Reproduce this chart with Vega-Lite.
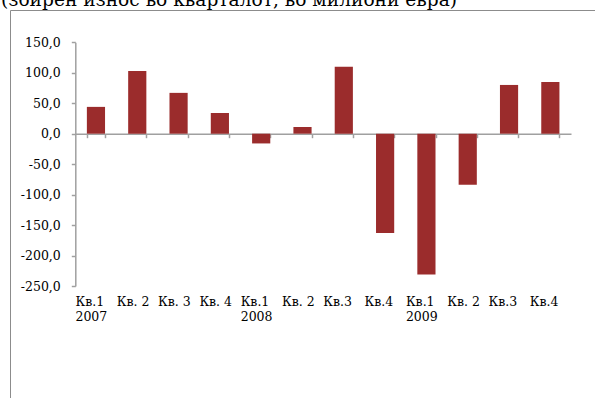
{
  "$schema": "https://vega.github.io/schema/vega-lite/v6.json",
  "autosize": {"type": "none"},
  "padding": {"left": 10, "top": 10, "right": -2, "bottom": -2},
  "width": 587,
  "height": 390,
  "background": "white",
  "title": {
    "text": "(збирен износ во кварталот, во милиони евра)",
    "anchor": "start",
    "frame": "group",
    "orient": "top",
    "baseline": "alphabetic",
    "offset": 4,
    "dx": -9,
    "dy": 19,
    "font": "DejaVu Serif",
    "fontSize": 18.6,
    "fontWeight": "normal",
    "color": "#000000"
  },
  "config": {
    "view": {"stroke": "#8c8c8c", "strokeWidth": 1},
    "axis": {"grid": false}
  },
  "data": {
    "values": [
      {"period": "2007|Кв.1|2007", "value": 44},
      {"period": "2007|Кв. 2|", "value": 103},
      {"period": "2007|Кв. 3|", "value": 67},
      {"period": "2007|Кв. 4|", "value": 34},
      {"period": "2008|Кв.1|2008", "value": -16},
      {"period": "2008|Кв. 2|", "value": 11},
      {"period": "2008|Кв.3|", "value": 110},
      {"period": "2008|Кв.4|", "value": -163},
      {"period": "2009|Кв.1|2009", "value": -231},
      {"period": "2009|Кв. 2|", "value": -84},
      {"period": "2009|Кв.3|", "value": 80},
      {"period": "2009|Кв.4|", "value": 85}
    ]
  },
  "mark": {"type": "bar", "color": "#9B2C2C"},
  "encoding": {
    "x": {
      "field": "period",
      "type": "nominal",
      "sort": null,
      "scale": {"range": [65.3, 561], "paddingInner": 0.56, "paddingOuter": 0.28},
      "axis": {
        "title": null,
        "orient": "bottom",
        "offset": -266.3,
        "domain": true,
        "domainColor": "#a0a0a0",
        "domainWidth": 1.5,
        "ticks": true,
        "tickBand": "extent",
        "tickColor": "#a0a0a0",
        "tickSize": 4,
        "tickWidth": 1.5,
        "labelAngle": 0,
        "labelAlign": "left",
        "labelBaseline": "top",
        "labelOffset": -21,
        "labelPadding": 158,
        "labelFont": "DejaVu Serif",
        "labelFontSize": 12.5,
        "labelColor": "#000000",
        "labelLineHeight": 15,
        "labelExpr": "[split(datum.value, '|')[1], split(datum.value, '|')[2]]"
      }
    },
    "y": {
      "field": "value",
      "type": "quantitative",
      "scale": {"domain": [-250, 150], "range": [276, 32.3], "nice": false, "zero": false},
      "axis": {
        "title": null,
        "orient": "left",
        "offset": -65.3,
        "values": [-250, -200, -150, -100, -50, 0, 50, 100, 150],
        "domain": true,
        "domainColor": "#a0a0a0",
        "domainWidth": 1.5,
        "tickColor": "#a0a0a0",
        "tickSize": 4,
        "tickWidth": 1.5,
        "labelPadding": 11,
        "labelFont": "DejaVu Serif",
        "labelFontSize": 12.5,
        "labelColor": "#000000",
        "labelExpr": "replace(replace(format(datum.value, '.1f'), '.', ','), '\u2212', '-')"
      }
    }
  }
}
